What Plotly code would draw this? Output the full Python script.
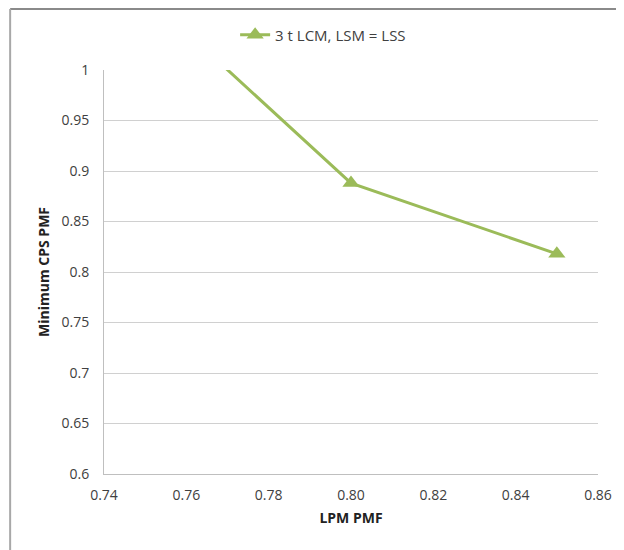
import plotly.graph_objects as go

series_name = "3 t LCM, LSM = LSS"
lpm_pmf = [0.75, 0.80, 0.85]
min_cps_pmf = [1.075, 0.888, 0.818]
x_ticks = [0.74, 0.76, 0.78, 0.80, 0.82, 0.84, 0.86]
x_tick_text = ["0.74", "0.76", "0.78", "0.80", "0.82", "0.84", "0.86"]
y_ticks = [0.6, 0.65, 0.7, 0.75, 0.8, 0.85, 0.9, 0.95, 1.0]
y_tick_text = ["0.6", "0.65", "0.7", "0.75", "0.8", "0.85", "0.9", "0.95", "1"]

green = "#9bbb59"
font_family = "Open Sans, Liberation Sans, sans-serif"

fig = go.Figure()
fig.add_trace(go.Scatter(
    x=lpm_pmf, y=min_cps_pmf, mode="lines+markers", name=series_name,
    line=dict(color=green, width=3),
    marker=dict(symbol="triangle-up", size=15, color=green),
    cliponaxis=True,
))

fig.update_layout(
    width=624, height=550,
    margin=dict(l=96, r=34, t=62, b=84, autoexpand=False),
    paper_bgcolor="white", plot_bgcolor="white",
    font=dict(family=font_family, size=14, color="#404040"),
    showlegend=True,
    legend=dict(orientation="h", x=0.505, y=1 - 27 / 550, xref="container", yref="container",
                xanchor="center", yanchor="middle", bgcolor="rgba(0,0,0,0)",
                font=dict(size=15, color="#404040")),
    xaxis=dict(range=[0.74, 0.86], tickvals=x_ticks, ticktext=x_tick_text,
               showgrid=False, zeroline=False, showline=True, linecolor="#bfbfbf",
               linewidth=1, ticks="", tickfont=dict(size=14), ticklabelstandoff=8,
               automargin=False,
               title=dict(text="<b>LPM PMF</b>", font=dict(size=14, color="#222"), standoff=10)),
    yaxis=dict(range=[0.6, 1.0], tickvals=y_ticks, ticktext=y_tick_text,
               showgrid=True, gridcolor="#d0d0d0", gridwidth=1, zeroline=False,
               showline=True, linecolor="#bfbfbf", linewidth=1, ticks="",
               tickfont=dict(size=14), ticklabelstandoff=11, automargin=False,
               title=dict(text="<b>Minimum CPS PMF</b>", font=dict(size=14, color="#222"), standoff=8)),
    shapes=[
        dict(type="line", xref="paper", yref="paper", x0=-0.19, x1=1.3, y0=1.151, y1=1.151,
             line=dict(color="#8a8a8a", width=2)),
        dict(type="line", xref="paper", yref="paper", x0=-0.19, x1=-0.19, y0=1.151, y1=-0.3,
             line=dict(color="#a8a8a8", width=2)),
    ],
)

fig.write_html("out.html")
